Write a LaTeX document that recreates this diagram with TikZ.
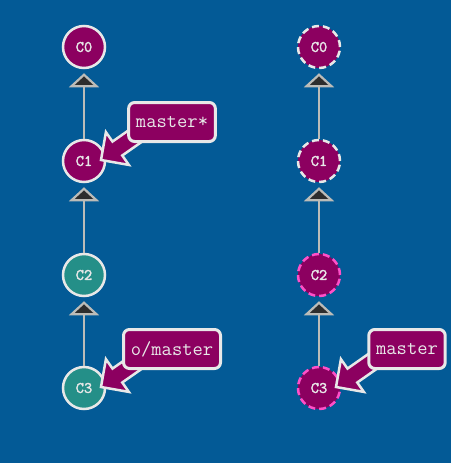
\documentclass[tikz,border=0pt]{standalone}
\usepackage{fontspec}
\newfontfamily\commitfont[FakeBold=2]{Latin Modern Mono}
\usetikzlibrary{arrows.meta, positioning, calc}

\definecolor{bgblue}{RGB}{3,90,150}
\definecolor{cmag}{RGB}{140,0,96}
\definecolor{cteal}{RGB}{36,143,136}
\definecolor{cpink}{RGB}{255,80,200}
\definecolor{rimgray}{RGB}{232,232,232}
\definecolor{edgegray}{RGB}{188,188,184}
\definecolor{tipdark}{RGB}{45,45,45}

\begin{document}
\begin{tikzpicture}[x=1pt, y=-1pt,
    commit/.style={circle, minimum size=42pt, inner sep=0pt, line width=2.5pt,
      draw=rimgray, fill=cmag, text=rimgray,
      font=\commitfont\fontsize{16}{16}\selectfont},
    teal/.style={fill=cteal},
    ghost/.style={dash pattern=on 7pt off 4pt},
    ghostpink/.style={ghost, draw=cpink},
    parent/.style={draw=edgegray, line width=2.5pt, shorten >=4pt,
      -{Triangle[width=30pt, length=14pt, line width=2.2pt, fill=tipdark]}},
    branch/.style={draw=rimgray, fill=cmag, line width=3pt, rounded corners=6pt,
      text=rimgray, inner xsep=7.3pt, inner ysep=0pt, minimum height=39pt,
      font=\ttfamily\fontsize{20}{20}\selectfont},
    ptr/.style={draw=rimgray, fill=cmag, line width=2.5pt, line join=miter}]
  \fill[bgblue] (0,0) rectangle (451,463);
  \useasboundingbox (0,0) rectangle (451,463);

  % local repository
  \node[commit] (c0) at (84,47) {C0};
  \node[commit] (c1) at (84,161) {C1};
  \node[commit, teal] (c2) at (84,275) {C2};
  \node[commit, teal] (c3) at (84,388) {C3};
  \draw[parent] (c1) -- (c0);
  \draw[parent] (c2) -- (c1);
  \draw[parent] (c3) -- (c2);

  % remote repository
  \node[commit, ghost] (rc0) at (319,47) {C0};
  \node[commit, ghost] (rc1) at (319,161) {C1};
  \node[commit, ghostpink] (rc2) at (319,275) {C2};
  \node[commit, ghostpink] (rc3) at (319,388) {C3};
  \draw[parent] (rc1) -- (rc0);
  \draw[parent] (rc2) -- (rc1);
  \draw[parent] (rc3) -- (rc2);

  % branch pointers
  \coordinate (t1) at ([shift={(17,-1)}]c1.center);
  \coordinate (t2) at ([shift={(17,-1)}]c3.center);
  \coordinate (t3) at ([shift={(17,-1)}]rc3.center);
  \foreach \t in {t1,t2,t3}
    \filldraw[ptr, shift={(\t)}, rotate=35]
      (0,0) -- (20,-20) -- (20,-8.5) -- (50,-8.5) -- (50,8.5) -- (20,8.5) -- (20,20) -- cycle;

  \node[branch] (master) at ([shift={(88,-39)}]c1.center) {master*};
  \node[branch] (omaster) at ([shift={(88,-39)}]c3.center) {o/master};
  \node[branch] (rmaster) at ([shift={(88,-39)}]rc3.center) {master};
\end{tikzpicture}
\end{document}
